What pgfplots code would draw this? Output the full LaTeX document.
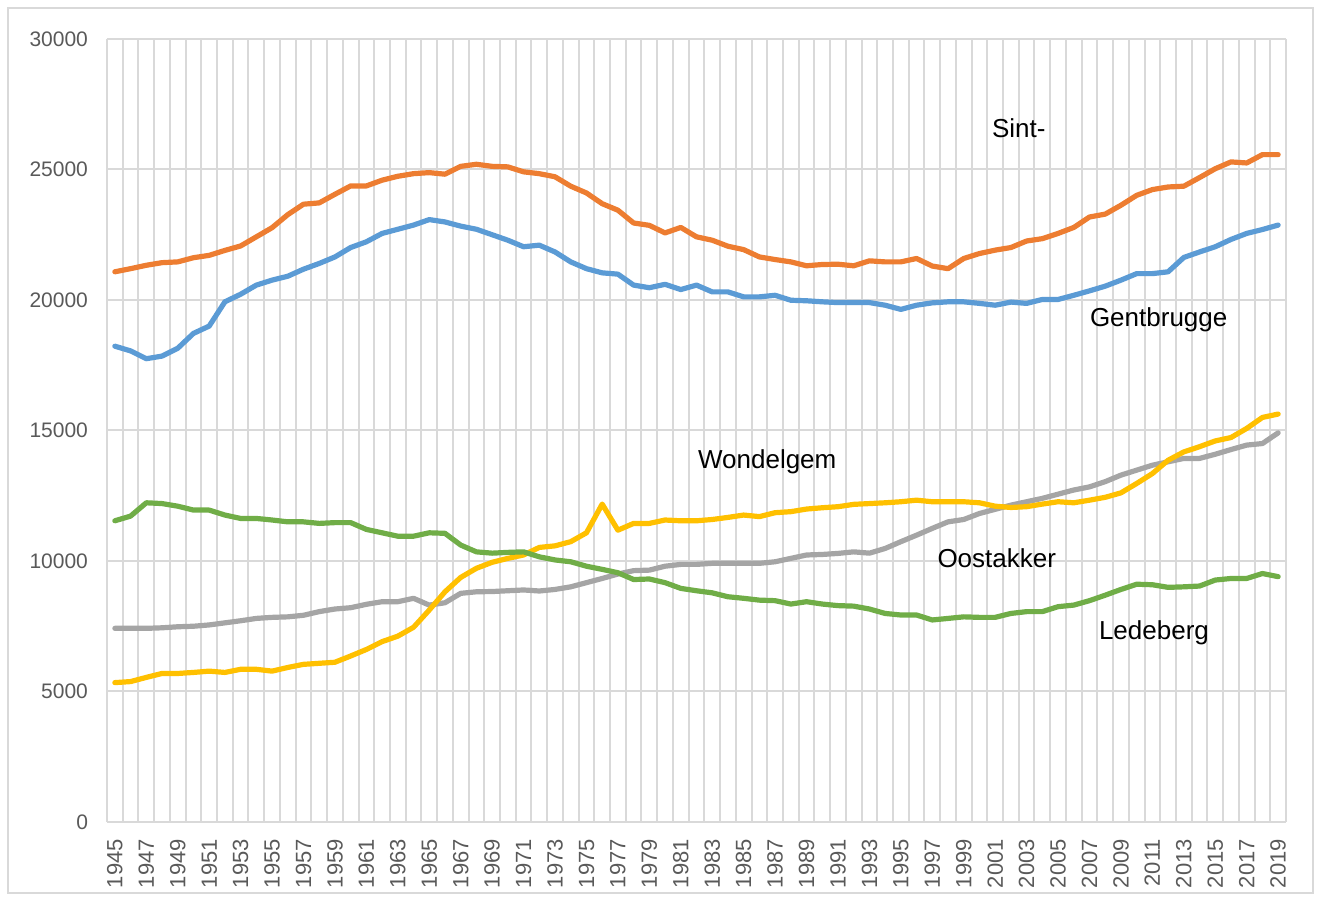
\documentclass[border=0pt]{standalone}
\usepackage{pgfplots}
\usepackage{pgfplotstable}
\pgfplotsset{compat=1.18}
\usepackage{fontspec}
\setmainfont{Liberation Sans}
\definecolor{cblue}{HTML}{5B9BD5}
\definecolor{corange}{HTML}{ED7D31}
\definecolor{cgray}{HTML}{A5A5A5}
\definecolor{cyellow}{HTML}{FFC000}
\definecolor{cgreen}{HTML}{70AD47}
\definecolor{gridc}{HTML}{D9D9D9}
\definecolor{tickc}{HTML}{595959}

\pgfplotstableread{
year blue orange gray yellow green
1945 18230 21080 7420 5340 11540
1946 18050 21200 7420 5380 11720
1947 17750 21330 7420 5540 12230
1948 17850 21430 7440 5690 12200
1949 18150 21460 7480 5690 12100
1950 18720 21620 7500 5730 11950
1951 19000 21710 7550 5780 11950
1952 19930 21900 7630 5730 11760
1953 20220 22070 7710 5850 11630
1954 20570 22420 7800 5850 11630
1955 20760 22770 7840 5780 11570
1956 20910 23270 7860 5920 11500
1957 21180 23670 7920 6040 11500
1958 21400 23720 8060 6080 11440
1959 21650 24050 8160 6120 11470
1960 22010 24370 8210 6360 11470
1961 22230 24370 8340 6610 11210
1962 22550 24590 8440 6910 11080
1963 22710 24740 8440 7120 10950
1964 22870 24840 8570 7460 10950
1965 23080 24880 8310 8120 11080
1966 22990 24820 8400 8820 11060
1967 22830 25120 8760 9370 10610
1968 22710 25200 8820 9720 10350
1969 22500 25120 8830 9950 10300
1970 22290 25100 8860 10100 10330
1971 22040 24910 8890 10230 10350
1972 22100 24840 8850 10520 10160
1973 21840 24720 8910 10580 10040
1974 21460 24360 9010 10740 9970
1975 21200 24100 9170 11080 9800
1976 21040 23690 9330 12180 9680
1977 20990 23440 9500 11180 9550
1978 20570 22950 9630 11440 9290
1979 20470 22860 9650 11440 9310
1980 20600 22570 9800 11570 9170
1981 20400 22780 9870 11540 8950
1982 20570 22420 9870 11540 8860
1983 20310 22290 9910 11590 8780
1984 20310 22060 9910 11670 8630
1985 20120 21930 9910 11760 8570
1986 20120 21650 9910 11700 8500
1987 20180 21550 9970 11850 8480
1988 19990 21460 10100 11890 8350
1989 19970 21310 10230 11990 8440
1990 19930 21360 10250 12040 8350
1991 19900 21370 10290 12080 8290
1992 19900 21310 10350 12170 8270
1993 19900 21500 10300 12200 8160
1994 19800 21460 10480 12230 7990
1995 19640 21460 10740 12270 7930
1996 19800 21590 10990 12330 7930
1997 19890 21300 11250 12270 7740
1998 19930 21200 11500 12270 7800
1999 19930 21590 11590 12270 7860
2000 19870 21780 11820 12230 7840
2001 19800 21910 11980 12100 7840
2002 19920 22010 12140 12050 7990
2003 19870 22260 12270 12080 8060
2004 20020 22350 12400 12180 8060
2005 20020 22550 12560 12270 8250
2006 20180 22780 12720 12230 8310
2007 20350 23180 12840 12330 8480
2008 20530 23290 13040 12440 8690
2009 20760 23630 13290 12610 8910
2010 21010 24010 13480 12970 9110
2011 21010 24230 13670 13350 9090
2012 21080 24330 13800 13860 8990
2013 21630 24360 13930 14180 9010
2014 21840 24690 13930 14380 9040
2015 22040 25030 14090 14600 9270
2016 22320 25290 14270 14730 9330
2017 22550 25250 14440 15080 9330
2018 22700 25570 14500 15500 9520
2019 22870 25570 14910 15630 9400
}\datatable

\begin{document}
\begin{tikzpicture}
\useasboundingbox (0,0) rectangle (661pt,448.5pt);
\draw[gridc, line width=0.8pt] (4pt,2pt) rectangle (656.5pt,444.5pt);
\begin{axis}[
  at={(53.5pt,37.5pt)}, anchor=south west,
  scale only axis,
  width=589.5pt, height=391.5pt,
  xmin=1944.5, xmax=2019.5,
  ymin=0, ymax=30000,
  axis line style={draw=none},
  major tick length=0pt, minor tick length=0pt,
  xtick={1945,1947,...,2019},
  minor xtick={1944.5,1945.5,...,2019.5},
  ytick={0,5000,...,30000},
  xminorgrids=true, ymajorgrids=true, xmajorgrids=false,
  minor grid style={gridc, line width=1pt},
  major grid style={gridc, line width=1pt},
  scaled y ticks=false,
  /pgf/number format/1000 sep={},
  /pgf/number format/assume math mode=true,
  tick label style={text=tickc},
  xticklabel style={font=\fontsize{11}{13}\selectfont, yshift=-5pt, rotate=90, anchor=east},
  yticklabel style={font=\fontsize{10.5}{12}\selectfont, xshift=-6pt},
  clip=false,
  every axis plot/.append style={line width=2.6pt, line join=round, line cap=round, mark=none},
]
\addplot[cblue] table[x=year, y=blue] {\datatable};
\addplot[corange] table[x=year, y=orange] {\datatable};
\addplot[cgray] table[x=year, y=gray] {\datatable};
\addplot[cyellow] table[x=year, y=yellow] {\datatable};
\addplot[cgreen] table[x=year, y=green] {\datatable};
\begin{scope}[every node/.style={font=\fontsize{13}{15}\selectfont, text=black}]
\node at (axis cs:2002.5,26580) {Sint-};
\node at (axis cs:2011.4,19230) {Gentbrugge};
\node at (axis cs:1986.5,13790) {Wondelgem};
\node at (axis cs:2001.1,10110) {Oostakker};
\node at (axis cs:2011.1,7240) {Ledeberg};
\end{scope}
\end{axis}
\end{tikzpicture}
\end{document}
